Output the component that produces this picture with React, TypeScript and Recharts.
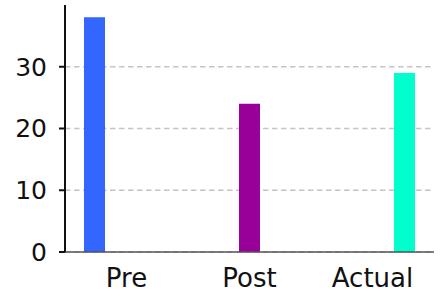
import React from "react";
import { BarChart, Bar, XAxis, YAxis, CartesianGrid } from "recharts";

const categories = ["Pre", "Post", "Actual"];
const preValues = [38, 0, 0];
const postValues = [0, 24, 0];
const actualValues = [0, 0, 29];
const yTicks = [0, 10, 20, 30];

const data = categories.map((name, i) => ({
  name,
  pre: preValues[i],
  post: postValues[i],
  actual: actualValues[i],
}));

const font = "DejaVu Sans, sans-serif";

export default function App() {
  return (
    <div style={{ position: "absolute", left: 0, top: 0 }}>
      <BarChart
        width={446}
        height={298}
        data={data}
        margin={{ top: 5, right: 12, left: 5, bottom: 6 }}
        barSize={21}
        barGap={11}
      >
        <CartesianGrid
          vertical={false}
          horizontalValues={yTicks}
          stroke="#c4c4c4"
          strokeDasharray="5.5 3.5"
          strokeWidth={1.5}
        />
        <XAxis
          dataKey="name"
          height={40}
          tickLine={false}
          tickSize={0}
          tickMargin={17}
          stroke="#555"
          strokeWidth={1.5}
          tick={{ fill: "#111", fontSize: 26, fontFamily: font }}
        />
        <YAxis
          width={60}
          domain={[0, 40]}
          ticks={yTicks}
          tickSize={6}
          tickMargin={12}
          stroke="#111"
          strokeWidth={2}
          tick={{ fill: "#111", fontSize: 25, fontFamily: font }}
        />
        <Bar dataKey="pre" fill="#3366ff" isAnimationActive={false} />
        <Bar dataKey="post" fill="#990099" isAnimationActive={false} />
        <Bar dataKey="actual" fill="#00ffcc" isAnimationActive={false} />
      </BarChart>
    </div>
  );
}
